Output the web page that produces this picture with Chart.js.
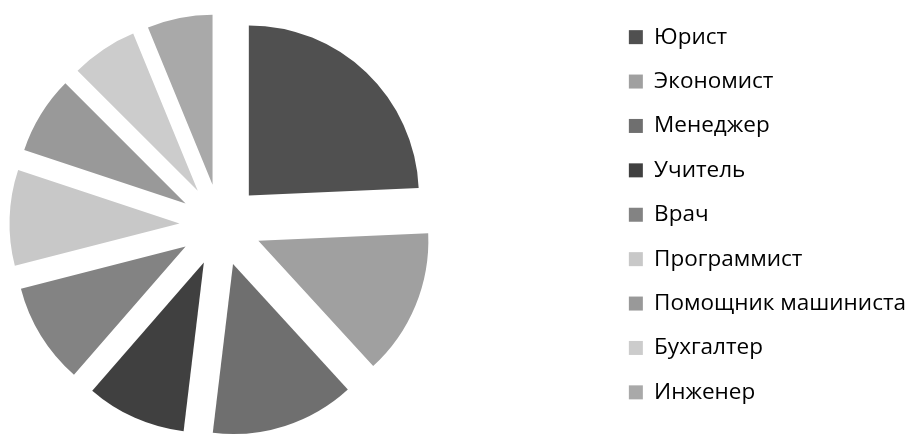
<!DOCTYPE html>
<html>
<head>
<meta charset="utf-8">
<script src="https://cdn.jsdelivr.net/npm/chart.js@4"></script>
<style>
    html, body { margin: 0; padding: 0; background: #fff; overflow: hidden; }
    body { width: 907px; height: 436px; position: relative; }
    #pieChart { position: absolute; left: -166px; top: 0; }
</style>
</head>
<body>
<canvas id="pieChart"></canvas>
<script>
const labels = ["Юрист", "Экономист", "Менеджер", "Учитель", "Врач", "Программист", "Помощник машиниста", "Бухгалтер", "Инженер"];
const values = [24.3, 13.9, 13.7, 9.5, 9.6, 9.1, 7.4, 6.3, 6.2];
const colors = ["#505050", "#a0a0a0", "#6f6f6f", "#404040", "#838383", "#c8c8c8", "#999999", "#cccccc", "#a9a9a9"];

const FONT = { family: "'Open Sans'", size: 22.5 };
const EXPLODE = 41;

// size the canvas so the legend lands at the right edge
// (vertical legend = padding + box + half font + text + 10)
const measure = document.createElement("canvas").getContext("2d");
measure.font = FONT.size + "px " + FONT.family;
let textW = 0;
labels.forEach(l => { textW = Math.max(textW, measure.measureText(l).width); });

const canvas = document.getElementById("pieChart");
canvas.width = Math.round(830.5 + textW);
canvas.height = 446;

// push every slice out along its middle angle
const explodePlugin = {
    id: "explode",
    beforeDatasetDraw(chart, args) {
        const ctx = chart.ctx;
        args.meta.data.forEach(arc => {
            const mid = (arc.startAngle + arc.endAngle) / 2;
            ctx.save();
            ctx.translate(Math.cos(mid) * EXPLODE, Math.sin(mid) * EXPLODE);
            arc.draw(ctx);
            ctx.restore();
        });
        return false;
    }
};

new Chart(canvas.getContext("2d"), {
    type: "pie",
    data: {
        labels: labels,
        datasets: [{
            data: values,
            backgroundColor: colors,
            borderWidth: 0
        }]
    },
    options: {
        responsive: false,
        animation: false,
        devicePixelRatio: 1,
        radius: 170,
        layout: { padding: { top: 4, left: 0, right: 0, bottom: 0 } },
        plugins: {
            legend: {
                position: "right",
                align: "start",
                labels: {
                    boxWidth: 14,
                    boxHeight: 14,
                    padding: 21.9,
                    color: "#000",
                    font: FONT
                }
            },
            tooltip: { enabled: false }
        }
    },
    plugins: [explodePlugin]
});
</script>
</body>
</html>
